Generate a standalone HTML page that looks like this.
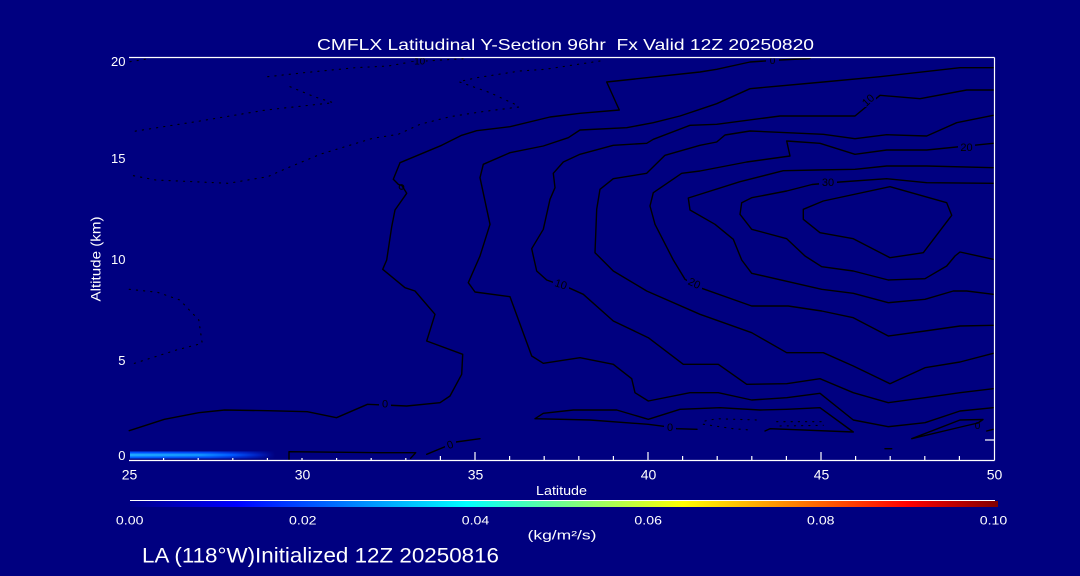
<!DOCTYPE html>
<html>
<head>
<meta charset="utf-8">
<style>
html,body{margin:0;padding:0;background:#000080;}
svg{display:block;}
text{font-family:"Liberation Sans","DejaVu Sans",sans-serif;}
</style>
</head>
<body>
<svg width="1080" height="576" viewBox="0 0 1080 576" xmlns="http://www.w3.org/2000/svg">
<defs>
<linearGradient id="jet" x1="0" y1="0" x2="1" y2="0">
<stop offset="0" stop-color="#000088"/>
<stop offset="0.123" stop-color="#0000ff"/>
<stop offset="0.388" stop-color="#00ffff"/>
<stop offset="0.637" stop-color="#ffff00"/>
<stop offset="0.895" stop-color="#ff0000"/>
<stop offset="1" stop-color="#800000"/>
</linearGradient>
<linearGradient id="rowA" x1="130" y1="0" x2="275" y2="0" gradientUnits="userSpaceOnUse">
<stop offset="0" stop-color="#0050ff"/>
<stop offset="0.55" stop-color="#0044f0"/>
<stop offset="0.8" stop-color="#0020c0"/>
<stop offset="1" stop-color="#000080"/>
</linearGradient>
<linearGradient id="rowB" x1="130" y1="0" x2="275" y2="0" gradientUnits="userSpaceOnUse">
<stop offset="0" stop-color="#20a8ff"/>
<stop offset="0.48" stop-color="#1090ff"/>
<stop offset="0.7" stop-color="#0058ff"/>
<stop offset="0.88" stop-color="#0020c0"/>
<stop offset="1" stop-color="#000080"/>
</linearGradient>
<linearGradient id="rowC" x1="130" y1="0" x2="275" y2="0" gradientUnits="userSpaceOnUse">
<stop offset="0" stop-color="#0060ff"/>
<stop offset="0.55" stop-color="#0048f0"/>
<stop offset="0.8" stop-color="#0020c0"/>
<stop offset="1" stop-color="#000080"/>
</linearGradient>
</defs>

<rect x="0" y="0" width="1080" height="576" fill="#000080"/>

<!-- shaded field near surface -->
<rect x="130" y="451.5" width="145" height="2" fill="url(#rowA)"/>
<rect x="130" y="453.5" width="145" height="3" fill="url(#rowB)"/>
<rect x="130" y="456.5" width="145" height="2" fill="url(#rowC)"/>

<!-- Title -->
<text x="317" y="50" font-size="16" fill="#fff" textLength="497" lengthAdjust="spacingAndGlyphs" xml:space="preserve">CMFLX Latitudinal Y-Section 96hr  Fx Valid 12Z 20250820</text>

<!-- contours solid -->
<g fill="none" stroke="#000" stroke-width="1.4" stroke-linejoin="round" stroke-linecap="round">
<polyline points="810,58.5 780,60 750,62 716.7,69.3 700,72 606.7,82 619.3,110 580,113.3 550,117 510,126.7 476.7,130.7 461.7,135.3 441.7,145.3 400,162.7 393.3,179.3 398.5,184.5 401.7,185.3 406.7,193.3 395,210 391.7,226.7 386.7,260 382.7,269.3 405,287.7 415,291 435,314.3 426.7,341 462.7,354.3 461.7,374.3 450,396 440,402.7 406.7,406 367.5,404.3 336.5,417.7 307.3,411.7 267.7,410.7 224.6,410 198.8,412.7 164.4,419.3 129.2,430.7"/>
<circle cx="401.5" cy="187" r="2.3" stroke-width="1.1"/>
<polyline points="993.3,67.7 960,67.7 880,76.7 823.3,82 750,88.7 716.7,103.7 700,109.3 680,116 653.3,122.7 626.7,127.7 580,130 568.3,137.7 543.3,146 510,152.7 483.3,164.3 480,177.7 490,224.3 480,256 468.3,282.7 475,292 510,296.7 531.7,356 543.3,363.3 580,357.7 613.3,364.3 631.7,378.7 635,392.7 648.3,401 690,392.7 718.3,392.7 751.7,400 786.7,397.7 820,393.3 853.3,420 888.3,426.7 925,422.7 960,411 993.3,407.7"/>
<polyline points="993.3,90 966.7,90 920,98.7 880,95.3 855,116 780,116 716.7,124.3 690,125.3 653.3,139.3 646.7,143.3 613.3,145.3 580,154.3 563.3,162 553.3,173.3 555,187.7 550,199.3 543.3,229.3 531.7,248.7 533.3,256 536.7,271 546.7,280 570,288.3 583.3,294.3 613.3,321 648.3,337.7 683.3,364.3 718.3,364.3 746.7,384.3 786.7,383.7 820,378.7 853.3,392.7 888.3,402.7 925,397.7 960,392.7 993.3,388.7"/>
<polyline points="993.3,115.3 956.7,122.7 926.7,136 886.7,134.7 855,138.7 823.3,134.3 750,131 725,135 716.7,142 700,145.3 665,155.3 646.7,173.3 613.3,178.7 600,189.3 596.7,209.3 595,252.7 598.3,256 613.3,271 646.7,291 700,314.3 751.7,332.7 786.7,352.7 823.3,352.7 853.3,366 890,383.7 925,367.7 960,362 993.3,353.3"/>
<polyline points="993.3,143.3 926.7,150 886.7,150 855,154.3 820,143.3 786.7,141 790,156 746.7,162 700,171 681.7,173.3 653.3,192.7 650,206 655,224.3 673.3,260 685,279.3 700,287.7 751.7,306 788.3,306 821.7,311 853.3,317.7 888.3,336 925,331 960,326 993.3,325.3"/>
<polyline points="993.3,167.7 926.7,166 886.7,166 855,169.3 816.7,170 783.3,170.7 740,181.7 688.3,198 690,210 715,224.3 733.3,239.3 741.7,260 751.7,273.3 821.7,289.3 853.3,293.3 888.3,302.7 925,299.3 953.3,291 966.7,291 993.3,294.3"/>
<polyline points="993.3,183.3 926.7,182.7 886.7,178.7 840,182 812,184.5 786.7,191 751.7,197.7 741.7,202.7 740,214.3 751.7,229.3 786.7,238.7 805,256 821.7,266.7 853.3,271 888.3,280 925,278.7 946.7,266 955,256 960,252 993.3,259.3"/>
<polygon points="803.3,209.3 823.3,201 890,186.7 946.7,202.7 951.7,215.3 923.3,252.7 890,257.7 853.3,238.7 820,232.7 803.3,219.3"/>
<polyline points="697,429.3 676.7,428.7 666.7,426.7 648.3,424.3 590,420 535,418.7 543.3,413.3 573.3,410 616.7,410 648.3,419.3 680,409.3 720,407.7 760,410 786.7,409.3 820,407.7 853.3,432 770,428.7 765,431"/>
<polygon points="911.7,438.7 960,420 983,419.5 978,423 965,426"/>
<polyline points="986.7,431 993.3,429.3"/>
<polyline points="885,448.7 891.7,448.7"/>
<polyline points="289,459.5 289,451.7 380,452.7 396.7,452.7 415.7,452.7 410.6,458.3"/>
<polyline points="426.7,454.3 446.7,446 456,442 480,438.7"/>
</g>

<!-- dotted negative contours -->
<g fill="none" stroke="#000" stroke-width="1.1" stroke-dasharray="1.2 6" stroke-linecap="round">
<polyline points="130,61.7 150,58.5"/>
<polyline points="267.7,76.7 303.8,72.7 355.5,67.7 388.3,66 403.3,63.3 411,62"/>
<polyline points="426,61 463,58.7"/>
<polyline points="600,61 545,69.3 520,71 476.7,77.7 458.8,81.7 490,92.7 515,104.3 519,107 480,112 450,116.7 420,124.3 398.3,134.3 372.7,138.3 321,154 286.6,168.3 267.7,176.7 228.1,183.3 193.6,181.7 155.8,180 129.9,175"/>
<polyline points="290,86.7 314.2,96.7 333.1,102.7 266,110 200,121 131.7,131.7"/>
<polyline points="129.2,289.3 157.5,292.3 179.9,300 198.8,320 202.2,343.3 176.4,350 129.2,365"/>
<polyline points="705,421 716.7,418.7 756.7,420"/>
<polyline points="703.3,424.3 733.3,428.7 750,430"/>
<polyline points="776.7,421.7 823.3,421.7"/>
<polyline points="780,426 823.3,425.3"/>
</g>

<!-- contour labels -->
<g font-size="11" fill="#000">
<rect x="766" y="58.5" width="13" height="5" fill="#000080"/>
<text x="772.5" y="64" text-anchor="middle" font-size="10">0</text>
<rect x="410" y="58.5" width="16" height="6" fill="#000080"/>
<text x="418" y="64.5" text-anchor="middle" font-size="10">-10</text>
<rect x="860" y="94" width="16" height="13" fill="#000080"/>
<text x="868" y="104" text-anchor="middle" transform="rotate(-42 868 100)">10</text>
<rect x="958" y="141" width="17" height="11" fill="#000080"/>
<text x="966.5" y="151" text-anchor="middle">20</text>
<rect x="819" y="176" width="18" height="11" fill="#000080"/>
<text x="828" y="186" text-anchor="middle">30</text>
<rect x="553" y="278" width="16" height="12" fill="#000080"/>
<text x="561" y="288" text-anchor="middle" transform="rotate(18 561 284)">10</text>
<rect x="687" y="277" width="15" height="12" fill="#000080"/>
<text x="694.5" y="287" text-anchor="middle" transform="rotate(25 694.5 283)">20</text>
<rect x="379" y="398" width="12" height="11" fill="#000080"/>
<text x="385" y="407.5" text-anchor="middle">0</text>
<rect x="445" y="439" width="11" height="11" fill="#000080"/>
<text x="450" y="448.5" text-anchor="middle" transform="rotate(-20 450 444.5)">0</text>
<rect x="664" y="421.5" width="12" height="11" fill="#000080"/>
<text x="670" y="431" text-anchor="middle">0</text>
<text x="977.5" y="429" text-anchor="middle" font-size="10">0</text>
</g>

<!-- axes -->
<g stroke="#fff" stroke-width="1.2" fill="none">
<line x1="129" y1="57.5" x2="994.5" y2="57.5"/>
<line x1="994.5" y1="57.5" x2="994.5" y2="460.5"/>
<line x1="129" y1="460.5" x2="994.5" y2="460.5"/>
<line x1="985" y1="440" x2="994.5" y2="440"/>
<path d="M163.6 460v-2 M198.2 460v-2 M232.8 460v-2 M267.4 460v-2 M302 460v-2 M336.6 460v-2 M371.2 460v-2 M405.8 460v-2"/>
<path d="M440.4 460v-4 M509.6 460v-4 M544.2 460v-4 M578.8 460v-4 M613.4 460v-4 M682.6 460v-4 M717.2 460v-4 M751.8 460v-4 M786.4 460v-4 M855.6 460v-4 M890.2 460v-4 M924.8 460v-4 M959.4 460v-4"/>
<path d="M475 460v-8 M648 460v-8 M821 460v-8"/>
</g>

<g font-size="13" fill="#fff" text-anchor="end">
<text x="125.5" y="66">20</text>
<text x="125.5" y="163">15</text>
<text x="125.5" y="264">10</text>
<text x="125.5" y="365">5</text>
<text x="125.5" y="460">0</text>
</g>
<g font-size="14" fill="#fff" text-anchor="middle">
<text x="129.5" y="479.5">25</text>
<text x="302.5" y="479.5">30</text>
<text x="475.5" y="479.5">35</text>
<text x="648.5" y="479.5">40</text>
<text x="821.5" y="479.5">45</text>
<text x="994.5" y="479.5">50</text>
</g>
<text x="536" y="495" font-size="13" fill="#fff" textLength="51" lengthAdjust="spacingAndGlyphs">Latitude</text>
<text x="0" y="0" font-size="13.5" fill="#fff" text-anchor="middle" textLength="85" lengthAdjust="spacingAndGlyphs" transform="translate(100.5 259) rotate(-90)">Altitude (km)</text>

<!-- colorbar -->
<line x1="130" y1="500.5" x2="995" y2="500.5" stroke="#fff" stroke-width="1"/>
<rect x="130" y="501" width="868" height="6" fill="url(#jet)"/>
<g font-size="12" fill="#fff" text-anchor="middle">
<text x="129.7" y="524.5" textLength="27.5" lengthAdjust="spacingAndGlyphs">0.00</text>
<text x="302.8" y="524.5" textLength="27.5" lengthAdjust="spacingAndGlyphs">0.02</text>
<text x="475.5" y="524.5" textLength="27.5" lengthAdjust="spacingAndGlyphs">0.04</text>
<text x="648.2" y="524.5" textLength="27.5" lengthAdjust="spacingAndGlyphs">0.06</text>
<text x="820.8" y="524.5" textLength="27.5" lengthAdjust="spacingAndGlyphs">0.08</text>
<text x="993.5" y="524.5" textLength="27.5" lengthAdjust="spacingAndGlyphs">0.10</text>
</g>
<text x="527.5" y="539.5" font-size="13" fill="#fff" textLength="69" lengthAdjust="spacingAndGlyphs">(kg/m²/s)</text>

<text x="142" y="562.3" font-size="21.5" fill="#fff" textLength="357" lengthAdjust="spacingAndGlyphs">LA (118°W)Initialized 12Z 20250816</text>
</svg>
</body>
</html>
